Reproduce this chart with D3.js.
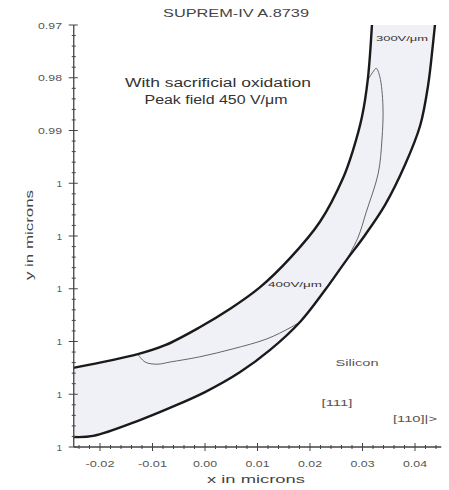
<!DOCTYPE html>
<html><head><meta charset="utf-8">
<script src="https://cdn.jsdelivr.net/npm/d3@7"></script>
<style>body{margin:0;background:#fff}svg{display:block}text{font-family:"Liberation Sans",Arial,sans-serif}</style>
</head><body>
<script>
// ---- data (microns) ----
const xTicks = [-0.02, -0.01, 0.00, 0.01, 0.02, 0.03, 0.04];
const xTickLabels = ["-0.02", "-0.01", "0.00", "0.01", "0.02", "0.03", "0.04"];
const yTicks = [0.97, 0.98, 0.99, 1.00, 1.01, 1.02, 1.03, 1.04, 1.05];
const yTickLabels = ["0.97", "0.98", "0.99", "1", "1", "1", "1", "1", "1"];
// inner (upper) oxide boundary
const innerX = [-0.0251, -0.0128, -0.0076, -0.0010, 0.0048, 0.0105, 0.0162, 0.0219, 0.0263, 0.0282, 0.0299, 0.0310, 0.0318];
const innerY = [1.0350, 1.0324, 1.0307, 1.0273, 1.0238, 1.0197, 1.0142, 1.0073, 0.9990, 0.9937, 0.9874, 0.9804, 0.9700];
// outer (lower) boundary
const outerX = [-0.0251, -0.0213, -0.0124, -0.0067, 0.0000, 0.0067, 0.0124, 0.0181, 0.0229, 0.0267, 0.0305, 0.0343, 0.0381, 0.0410, 0.0425, 0.0434, 0.0438];
const outerY = [1.0481, 1.0479, 1.0449, 1.0426, 1.0396, 1.0358, 1.0316, 1.0263, 1.0202, 1.0149, 1.0098, 1.0041, 0.9965, 0.9890, 0.9814, 0.9738, 0.9700];
// field contour (thin line), two visible branches
const contourAX = [-0.0128, -0.0114, -0.0091, -0.0067, -0.0010, 0.0053, 0.0118, 0.0162, 0.0181];
const contourAY = [1.0324, 1.0339, 1.0343, 1.0339, 1.0329, 1.0314, 1.0295, 1.0274, 1.0263];
const contourBX = [0.0267, 0.0291, 0.0307, 0.0330, 0.0337, 0.0339, 0.0333, 0.0326, 0.0320, 0.0310];
const contourBY = [1.0149, 1.0104, 1.0055, 0.9981, 0.9918, 0.9855, 0.9798, 0.9782, 0.9789, 0.9804];

const W = 449, H = 490;
const svg = d3.select("body").append("svg").attr("width", W).attr("height", H);
const x = d3.scaleLinear().domain([-0.025, 0.045]).range([73.75, 441.25]);
const y = d3.scaleLinear().domain([0.97, 1.05]).range([25, 447]);

const pts = (xs, ys) => xs.map((v, i) => [v, ys[i]]);
const inner = pts(innerX, innerY), outer = pts(outerX, outerY);
const line = d3.line().x(d => x(d[0])).y(d => y(d[1])).curve(d3.curveCatmullRom.alpha(0.5));

// fill between boundaries
const fillPts = inner.concat(outer.slice().reverse());
svg.append("path")
  .attr("d", d3.line().x(d => x(d[0])).y(d => y(d[1])).curve(d3.curveLinearClosed)(fillPts))
  .attr("fill", "#f0f0f7").attr("stroke", "none");

// thin contour
[pts(contourAX, contourAY), pts(contourBX, contourBY)].forEach(c => {
  svg.append("path").attr("d", line(c)).attr("fill", "none")
    .attr("stroke", "#666").attr("stroke-width", 1);
});
// thick boundaries
[inner, outer].forEach(c => {
  svg.append("path").attr("d", line(c)).attr("fill", "none")
    .attr("stroke", "#1a1a1a").attr("stroke-width", 2.4).attr("stroke-linejoin", "round");
});

// axes
const axCol = "#444";
const gy = svg.append("g");
gy.append("line").attr("x1", x(-0.025)).attr("x2", x(-0.025)).attr("y1", y(0.97)).attr("y2", y(1.05)).attr("stroke", axCol).attr("stroke-width", 1.3);
d3.range(0, 41).forEach(i => {
  const v = 0.97 + i * 0.002, major = i % 5 === 0;
  gy.append("line").attr("x1", x(-0.025) - (major ? 5 : 2)).attr("x2", x(-0.025) + (major ? 4 : 2))
    .attr("y1", y(v)).attr("y2", y(v)).attr("stroke", axCol).attr("stroke-width", 1);
});
yTicks.forEach((v, i) => {
  const t = gy.append("text").attr("x", 62).attr("y", y(v) + 3.5).attr("text-anchor", "end")
    .attr("font-size", 9.5).attr("fill", "#555").text(yTickLabels[i]);
  if (yTickLabels[i].length > 2) t.attr("textLength", 24).attr("lengthAdjust", "spacingAndGlyphs");
});
const gx = svg.append("g");
gx.append("line").attr("x1", x(-0.025)).attr("x2", x(0.045)).attr("y1", y(1.05)).attr("y2", y(1.05)).attr("stroke", axCol).attr("stroke-width", 1.3);
d3.range(0, 36).forEach(i => {
  const vv = Math.round((-0.024 + i * 0.002) * 1e4) / 1e4;
  if (vv > 0.045) return;
  const major = Math.abs(Math.round(vv * 100) - vv * 100) < 1e-6;
  gx.append("line").attr("x1", x(vv)).attr("x2", x(vv))
    .attr("y1", y(1.05) - (major ? 4 : 2)).attr("y2", y(1.05) + (major ? 4 : 2))
    .attr("stroke", axCol).attr("stroke-width", 1);
});
xTicks.forEach((v, i) => {
  gx.append("text").attr("x", x(v)).attr("y", 467).attr("text-anchor", "middle")
    .attr("font-size", 9.5).attr("fill", "#555")
    .attr("textLength", xTickLabels[i].length > 4 ? 29 : 24).attr("lengthAdjust", "spacingAndGlyphs")
    .text(xTickLabels[i]);
});

// texts
function txt(s, cx, cy, size, len, col, anchor) {
  const t = svg.append("text").attr("x", cx).attr("y", cy).attr("font-size", size)
    .attr("fill", col || "#333").attr("text-anchor", anchor || "middle").text(s);
  if (len) t.attr("textLength", len).attr("lengthAdjust", "spacingAndGlyphs");
  return t;
}
txt("SUPREM-IV A.8739", 236, 17, 11, 146, "#444");
txt("With sacrificial oxidation", 218, 87, 12, 186, "#333");
txt("Peak field 450 V/\u03bcm", 216, 104, 12, 143, "#333");
txt("x in microns", 256, 483, 11, 98, "#444");
svg.append("text").attr("transform", "translate(33,235) rotate(-90)").attr("text-anchor", "middle")
  .attr("font-size", 11).attr("fill", "#444").attr("textLength", 90).attr("lengthAdjust", "spacingAndGlyphs").text("y in microns");
txt("300V/\u03bcm", 402, 41, 8, 52, "#333");
txt("400V/\u03bcm", 295, 287, 8, 54, "#333");
txt("Silicon", 357, 366, 9, 43, "#555");
txt("[111]", 337, 406, 9, 31, "#555");
txt("[110]|>", 415, 422, 9, 44, "#555");
</script>
</body></html>
